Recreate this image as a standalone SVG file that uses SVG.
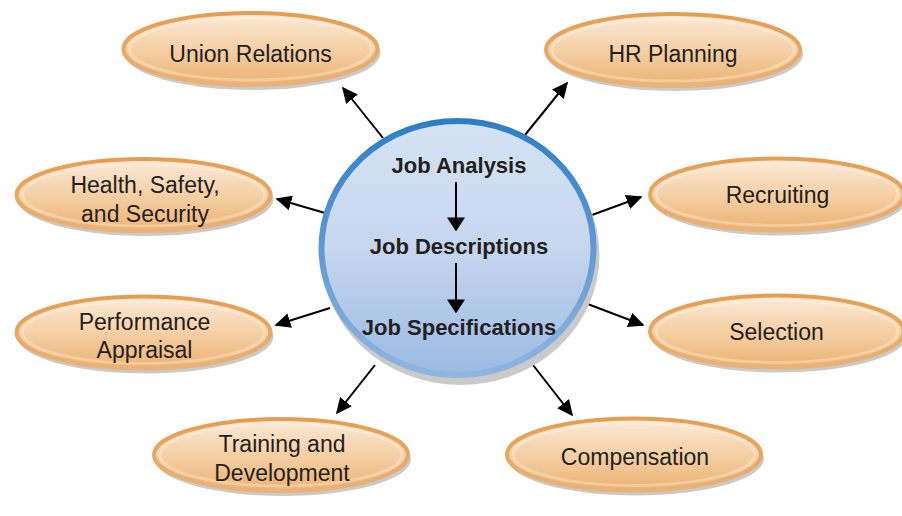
<svg xmlns="http://www.w3.org/2000/svg" width="902" height="516" viewBox="0 0 902 516">
<defs>
  <linearGradient id="ovalFill" x1="0" y1="0" x2="0" y2="1">
    <stop offset="0" stop-color="#FBEAD8"/>
    <stop offset="0.5" stop-color="#F5D0A6"/>
    <stop offset="1" stop-color="#ECB272"/>
  </linearGradient>
  <linearGradient id="ovalStroke" x1="0" y1="0" x2="0" y2="1">
    <stop offset="0" stop-color="#E59E50"/>
    <stop offset="1" stop-color="#E9B277"/>
  </linearGradient>
  <linearGradient id="circFill" x1="0" y1="0" x2="0" y2="1">
    <stop offset="0" stop-color="#D6E3F4"/>
    <stop offset="0.5" stop-color="#C6D6EE"/>
    <stop offset="1" stop-color="#9BBAE3"/>
  </linearGradient>
  <linearGradient id="circStroke" x1="0" y1="0" x2="0" y2="1">
    <stop offset="0" stop-color="#2E7EC6"/>
    <stop offset="1" stop-color="#90B5E1"/>
  </linearGradient>
  <marker id="ah" viewBox="0 0 10 10" refX="9" refY="5" markerWidth="8" markerHeight="7.5" orient="auto" preserveAspectRatio="none">
    <path d="M0,0 L10,5 L0,10 z" fill="#000"/>
  </marker>
  <marker id="ah2" viewBox="0 0 10 10" refX="9" refY="5" markerWidth="7" markerHeight="9" orient="auto" preserveAspectRatio="none">
    <path d="M0,0 L10,5 L0,10 z" fill="#000"/>
  </marker>
</defs>
<style>
  .shadow { fill: #CACACA; }
  .oval { fill: url(#ovalFill); stroke: url(#ovalStroke); stroke-width: 4; }
  .hl { fill: none; stroke: #FFF3E6; stroke-opacity: 0.35; stroke-width: 3; }
  .lbl { font-family: "Liberation Sans", Arial, sans-serif; font-size: 23px; fill: #231F20; text-anchor: middle; }
  .ctr { font-family: "Liberation Sans", Arial, sans-serif; font-size: 22px; font-weight: bold; fill: #231F20; text-anchor: middle; }
  .conn line { stroke: #000; stroke-width: 2; marker-end: url(#ah); }
  .inner line { stroke: #000; stroke-width: 2; marker-end: url(#ah2); }
</style>

<g id="connectors" class="conn">
  <line x1="383" y1="138" x2="343" y2="88"/>
  <line x1="525" y1="135" x2="567" y2="83"/>
  <line x1="592" y1="215" x2="641" y2="197"/>
  <line x1="325" y1="213" x2="277" y2="199"/>
  <line x1="330" y1="308" x2="276" y2="325"/>
  <line x1="585" y1="303" x2="643" y2="325"/>
  <line x1="375" y1="365" x2="337" y2="413"/>
  <line x1="533" y1="365" x2="572" y2="415"/>
</g>

<g id="center">
  <ellipse class="shadow" cx="460.5" cy="255" rx="139" ry="130"/>
  <ellipse cx="457.5" cy="248" rx="136" ry="127" fill="url(#circFill)" stroke="url(#circStroke)" stroke-width="6"/>
  <text class="ctr" x="459" y="173">Job Analysis</text>
  <text class="ctr" x="459" y="254">Job Descriptions</text>
  <text class="ctr" x="459" y="335">Job Specifications</text>
  <g class="inner">
    <line x1="456" y1="182" x2="456" y2="230"/>
    <line x1="456" y1="263" x2="456" y2="312"/>
  </g>
</g>

<g id="union-relations">
  <ellipse class="shadow" cx="252.5" cy="53" rx="128" ry="37"/>
  <ellipse class="oval" cx="250.5" cy="49" rx="127" ry="36"/>
  <ellipse class="hl" cx="250.5" cy="49" rx="121" ry="31"/>
  <text class="lbl" x="250.5" y="62">Union Relations</text>
</g>

<g id="hr-planning">
  <ellipse class="shadow" cx="675" cy="54" rx="128" ry="37"/>
  <ellipse class="oval" cx="673" cy="50" rx="127" ry="36"/>
  <ellipse class="hl" cx="673" cy="50" rx="121" ry="31"/>
  <text class="lbl" x="673" y="62">HR Planning</text>
</g>

<g id="health-safety">
  <ellipse class="shadow" cx="145.5" cy="199" rx="128" ry="37"/>
  <ellipse class="oval" cx="143.5" cy="195" rx="127" ry="36"/>
  <ellipse class="hl" cx="143.5" cy="195" rx="121" ry="31"/>
  <text class="lbl" x="145" y="193">Health, Safety,</text>
  <text class="lbl" x="145" y="222">and Security</text>
</g>

<g id="recruiting">
  <ellipse class="shadow" cx="779" cy="198.5" rx="128" ry="37"/>
  <ellipse class="oval" cx="777" cy="194.5" rx="127" ry="36"/>
  <ellipse class="hl" cx="777" cy="194.5" rx="121" ry="31"/>
  <text class="lbl" x="777.5" y="203">Recruiting</text>
</g>

<g id="performance-appraisal">
  <ellipse class="shadow" cx="145.5" cy="336.5" rx="128" ry="37"/>
  <ellipse class="oval" cx="143.5" cy="332.5" rx="127" ry="36"/>
  <ellipse class="hl" cx="143.5" cy="332.5" rx="121" ry="31"/>
  <text class="lbl" x="144.5" y="330">Performance</text>
  <text class="lbl" x="144.5" y="358">Appraisal</text>
</g>

<g id="selection">
  <ellipse class="shadow" cx="779" cy="335.5" rx="128" ry="37"/>
  <ellipse class="oval" cx="777" cy="331.5" rx="127" ry="36"/>
  <ellipse class="hl" cx="777" cy="331.5" rx="121" ry="31"/>
  <text class="lbl" x="776.5" y="340">Selection</text>
</g>

<g id="training-development">
  <ellipse class="shadow" cx="283" cy="459" rx="128" ry="37"/>
  <ellipse class="oval" cx="281" cy="455" rx="127" ry="36"/>
  <ellipse class="hl" cx="281" cy="455" rx="121" ry="31"/>
  <text class="lbl" x="282" y="452">Training and</text>
  <text class="lbl" x="282" y="481">Development</text>
</g>

<g id="compensation">
  <ellipse class="shadow" cx="636" cy="458.5" rx="128" ry="37"/>
  <ellipse class="oval" cx="634" cy="454.5" rx="127" ry="36"/>
  <ellipse class="hl" cx="634" cy="454.5" rx="121" ry="31"/>
  <text class="lbl" x="635" y="465">Compensation</text>
</g>
</svg>
